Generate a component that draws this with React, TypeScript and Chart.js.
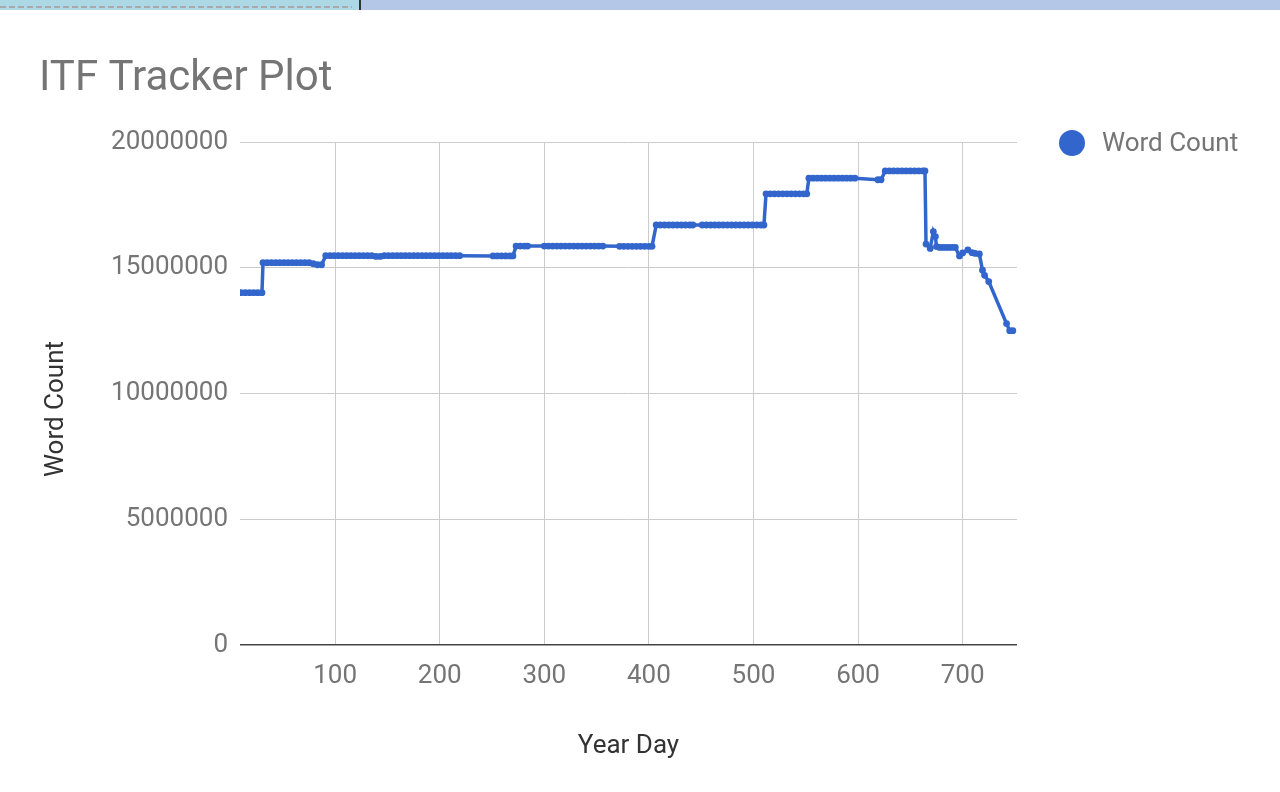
import React, { useEffect, useRef } from 'react';
import { Chart, registerables } from 'chart.js';

Chart.register(...registerables);

const CHART_TITLE = 'ITF Tracker Plot';
const SERIES_NAME = 'Word Count';
const X_TITLE = 'Year Day';
const Y_TITLE = 'Word Count';
const X_TICKS = [100, 200, 300, 400, 500, 600, 700];
const Y_TICKS = [0, 5000000, 10000000, 15000000, 20000000];

const yearDays = [
  10, 14, 18, 22, 26, 30,
  31, 35, 39, 43, 47, 51, 55, 59, 63, 67, 71, 75,
  79, 83, 87,
  91, 95, 99, 103, 107, 111, 115, 119, 123, 127, 131, 135,
  139, 143,
  147, 151, 155, 159, 163, 167, 171, 175, 179, 183, 187, 191, 195, 199, 203, 207, 211, 215, 219,
  251, 255, 259, 263, 267, 270,
  273, 277, 281, 284,
  300, 304, 308, 312, 316, 320, 324, 328, 332, 336, 340, 344, 348, 352, 356,
  372, 376, 380, 384, 388, 392, 396, 400, 403,
  407, 411, 415, 419, 423, 427, 431, 435, 439, 442,
  451, 455, 459, 463, 467, 471, 475, 479, 483, 487, 491, 495, 499, 503, 507, 510,
  512, 516, 520, 524, 528, 532, 536, 540, 544, 548, 551,
  553, 557, 561, 565, 569, 573, 577, 581, 585, 589, 593, 597,
  619, 622,
  626, 630, 634, 638, 642, 646, 650, 654, 658, 662, 664,
  665, 669, 672, 674, 675,
  678, 681, 684, 687, 690, 693,
  697, 700, 705, 709, 712, 716,
  719, 721, 725, 742, 745, 748,
];

const wordCounts = [
  14010000, 14010000, 14010000, 14010000, 14010000, 14010000,
  15200000, 15200000, 15200000, 15200000, 15200000, 15200000, 15200000, 15200000, 15200000, 15200000, 15200000, 15200000,
  15160000, 15120000, 15120000,
  15480000, 15480000, 15480000, 15480000, 15480000, 15480000, 15480000, 15480000, 15480000, 15480000, 15480000, 15480000,
  15450000, 15450000,
  15480000, 15480000, 15480000, 15480000, 15480000, 15480000, 15480000, 15480000, 15480000, 15480000, 15480000, 15480000, 15480000, 15480000, 15480000, 15480000, 15480000, 15480000, 15480000,
  15470000, 15470000, 15470000, 15470000, 15470000, 15470000,
  15860000, 15860000, 15860000, 15860000,
  15860000, 15860000, 15860000, 15860000, 15860000, 15860000, 15860000, 15860000, 15860000, 15860000, 15860000, 15860000, 15860000, 15860000, 15860000,
  15850000, 15850000, 15850000, 15850000, 15850000, 15850000, 15850000, 15850000, 15850000,
  16700000, 16700000, 16700000, 16700000, 16700000, 16700000, 16700000, 16700000, 16700000, 16700000,
  16700000, 16700000, 16700000, 16700000, 16700000, 16700000, 16700000, 16700000, 16700000, 16700000, 16700000, 16700000, 16700000, 16700000, 16700000, 16700000,
  17940000, 17940000, 17940000, 17940000, 17940000, 17940000, 17940000, 17940000, 17940000, 17940000, 17940000,
  18560000, 18560000, 18560000, 18560000, 18560000, 18560000, 18560000, 18560000, 18560000, 18560000, 18560000, 18560000,
  18500000, 18500000,
  18850000, 18850000, 18850000, 18850000, 18850000, 18850000, 18850000, 18850000, 18850000, 18850000, 18850000,
  15940000, 15770000, 16440000, 16240000, 15840000,
  15810000, 15810000, 15810000, 15810000, 15810000, 15810000,
  15470000, 15590000, 15710000, 15600000, 15570000, 15550000,
  14900000, 14700000, 14450000, 12780000, 12500000, 12500000,
];

const FONT = 'Roboto';
const LINE_COLOR = '#3366CC';
const LABEL_COLOR = '#757575';
const TITLE_AXIS_COLOR = '#333333';

const decorPlugin = {
  id: 'decor',
  afterDraw(chart: any) {
    const c = chart.ctx as CanvasRenderingContext2D;
    c.save();
    c.fillStyle = LABEL_COLOR;
    c.font = `42px ${FONT}`;
    c.textAlign = 'left';
    c.textBaseline = 'alphabetic';
    c.fillText(CHART_TITLE, 39, 90);

    c.beginPath();
    c.arc(1072, 143, 13, 0, Math.PI * 2);
    c.fillStyle = LINE_COLOR;
    c.fill();
    c.fillStyle = LABEL_COLOR;
    c.font = `26px ${FONT}`;
    c.textBaseline = 'middle';
    c.fillText(SERIES_NAME, 1102, 144);

    c.translate(56, 409);
    c.rotate(-Math.PI / 2);
    c.textAlign = 'center';
    c.fillStyle = TITLE_AXIS_COLOR;
    c.fillText(Y_TITLE, 0, 0);
    c.restore();
  },
};

export default function App() {
  const ref = useRef<HTMLCanvasElement>(null);
  useEffect(() => {
    const chart = new Chart(ref.current as HTMLCanvasElement, {
      type: 'line',
      data: {
        datasets: [
          {
            label: SERIES_NAME,
            data: yearDays.map((d, i) => ({ x: d, y: wordCounts[i] })),
            borderColor: LINE_COLOR,
            backgroundColor: LINE_COLOR,
            pointBackgroundColor: LINE_COLOR,
            borderWidth: 3.5,
            pointRadius: 3.4,
            pointBorderWidth: 0,
            tension: 0,
          },
        ],
      },
      options: {
        animation: false,
        responsive: false,
        layout: { padding: { top: 142, right: 263, left: 0, bottom: 0 } },
        plugins: {
          legend: { display: false },
          title: { display: false },
          tooltip: { enabled: false },
        },
        scales: {
          x: {
            type: 'linear',
            min: 9,
            max: 752,
            afterBuildTicks: (s: any) => {
              s.ticks = X_TICKS.map((v) => ({ value: v }));
            },
            afterFit: (s: any) => {
              s.height = 147;
            },
            grid: { color: '#cccccc', lineWidth: 1, drawTicks: false },
            border: { display: false },
            ticks: {
              color: LABEL_COLOR,
              font: { family: FONT, size: 26 },
              padding: 16,
              maxRotation: 0,
              autoSkip: false,
            },
            title: {
              display: true,
              text: X_TITLE,
              color: TITLE_AXIS_COLOR,
              font: { family: FONT, size: 26 },
              padding: { top: 0, bottom: 30 },
            },
          },
          y: {
            type: 'linear',
            min: 0,
            max: 20000000,
            afterBuildTicks: (s: any) => {
              s.ticks = Y_TICKS.map((v) => ({ value: v }));
            },
            afterFit: (s: any) => {
              s.width = 240;
            },
            grid: {
              color: (ctx: any) => (ctx.tick && ctx.tick.value === 0 ? '#444444' : '#cccccc'),
              lineWidth: (ctx: any) => (ctx.tick && ctx.tick.value === 0 ? 1.6 : 1),
              drawTicks: false,
            },
            border: { display: false },
            ticks: {
              color: LABEL_COLOR,
              font: { family: FONT, size: 26 },
              padding: 12,
              callback: (v: any) => String(v),
            },
          },
        },
      },
      plugins: [decorPlugin],
    });
    return () => chart.destroy();
  }, []);

  return (
    <div style={{ position: 'absolute', left: 0, top: 0, width: 1280, height: 792, background: '#ffffff', overflow: 'hidden' }}>
      <canvas ref={ref} width={1280} height={792} style={{ display: 'block' }} />
      <div style={{ position: 'absolute', left: 0, top: 0, width: 359, height: 10, background: '#add8e6' }}>
        <div
          style={{
            position: 'absolute',
            left: 0,
            top: 6,
            width: 352,
            height: 2,
            background: 'repeating-linear-gradient(90deg, #a9a9a9 0px, #a9a9a9 6px, transparent 6px, transparent 9px)',
          }}
        />
      </div>
      <div style={{ position: 'absolute', left: 359, top: 0, width: 2, height: 10, background: '#333333' }} />
      <div style={{ position: 'absolute', left: 361, top: 0, width: 919, height: 10, background: '#b4c7e7' }} />
    </div>
  );
}
